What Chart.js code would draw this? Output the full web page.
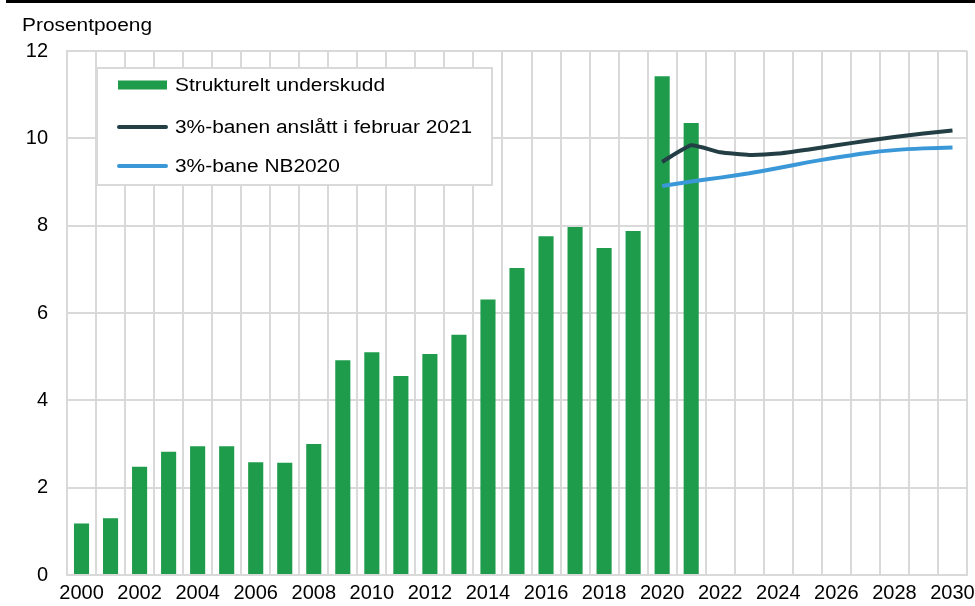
<!DOCTYPE html>
<html>
<head>
<meta charset="utf-8">
<script src="https://cdn.jsdelivr.net/npm/chart.js@4"></script>
<style>
  body { margin: 0; background: #fff; }
  canvas { display: block; }
</style>
</head>
<body>
<canvas id="chart" width="975" height="606"></canvas>
<script>
// Years on the x axis
const years = [];
for (let y = 2000; y <= 2030; y++) years.push(String(y));

// Strukturelt underskudd, 2000-2021
const deficit = [1.18, 1.30, 2.48, 2.82, 2.95, 2.95, 2.58, 2.57, 3.00, 4.92,
    5.10, 4.56, 5.06, 5.50, 6.31, 7.03, 7.76, 7.97, 7.49, 7.88, 11.42, 10.35];

// 3%-banen anslått i februar 2021, 2020-2030
const pathFeb2021 = [9.46, 9.84, 9.68, 9.62, 9.65, 9.74, 9.84, 9.94, 10.03, 10.11, 10.18];

// 3%-bane NB2020, 2020-2030
const pathNB2020 = [8.91, 9.01, 9.10, 9.20, 9.32, 9.45, 9.56, 9.66, 9.73, 9.77, 9.79];

const yTicks = [0, 2, 4, 6, 8, 10, 12];

const seriesNames = ['Strukturelt underskudd', '3%-banen anslått i februar 2021', '3%-bane NB2020'];
const colors = ['#1e9c4b', '#233f45', '#3a98d9'];

// pad the line series with nulls before 2020
const pad = years.length - pathFeb2021.length;
const lead = new Array(pad).fill(null);

Chart.defaults.font.family = '"Liberation Sans", Arial, sans-serif';
Chart.defaults.font.size = 20;
Chart.defaults.color = '#000';

// text in the reference is a bit wider than plain Arial
function wideText(ctx, txt, x, y) {
    ctx.save();
    ctx.translate(x, y);
    ctx.scale(1.16, 1);
    ctx.fillText(txt, 0, 0);
    ctx.restore();
}

// legend box, axis title and top rule
const extras = {
    id: 'extras',
    afterDraw(chart) {
        const ctx = chart.ctx;
        ctx.save();
        ctx.fillStyle = '#000';
        ctx.fillRect(6, 0, 969, 3);

        ctx.font = '18px "Liberation Sans", Arial';
        ctx.textBaseline = 'alphabetic';
        ctx.textAlign = 'left';
        wideText(ctx, 'Prosentpoeng', 22, 31);

        // legend
        ctx.fillStyle = '#fff';
        ctx.fillRect(97, 68, 395, 117);
        ctx.strokeStyle = '#d9d9d9';
        ctx.lineWidth = 2;
        ctx.strokeRect(97, 68, 395, 117);

        const rows = [85, 127, 166];
        const legendOrder = [2, 0, 1];
        legendOrder.forEach((di, i) => {
            const ds = chart.data.datasets[di];
            const yy = rows[i];
            if (ds.type === 'bar') {
                ctx.fillStyle = ds.backgroundColor;
                ctx.fillRect(118, yy - 4.5, 49, 9);
            } else {
                ctx.strokeStyle = ds.borderColor;
                ctx.lineWidth = 4;
                ctx.lineCap = 'round';
                ctx.beginPath();
                ctx.moveTo(119, yy);
                ctx.lineTo(166, yy);
                ctx.stroke();
            }
            ctx.fillStyle = '#000';
            ctx.textBaseline = 'middle';
            wideText(ctx, ds.label, 175, yy + 1);
        });
        ctx.restore();
    }
};

new Chart(document.getElementById('chart'), {
    data: {
        labels: years,
        datasets: [
            {
                type: 'line',
                label: seriesNames[1],
                data: lead.concat(pathFeb2021),
                borderColor: colors[1],
                borderWidth: 4,
                pointRadius: 0,
                tension: 0.15,
                order: 1
            },
            {
                type: 'line',
                label: seriesNames[2],
                data: lead.concat(pathNB2020),
                borderColor: colors[2],
                borderWidth: 4,
                pointRadius: 0,
                tension: 0.2,
                order: 2
            },
            {
                type: 'bar',
                label: seriesNames[0],
                data: deficit,
                backgroundColor: colors[0],
                categoryPercentage: 1,
                barPercentage: 0.52,
                order: 3
            }
        ]
    },
    options: {
        responsive: false,
        animation: false,
        devicePixelRatio: 1,
        layout: { padding: { top: 51, right: 8, left: 0, bottom: 0 } },
        plugins: {
            legend: { display: false },
            tooltip: { enabled: false }
        },
        scales: {
            x: {
                type: 'category',
                offset: true,
                grid: { offset: true, color: '#d9d9d9', lineWidth: 2, drawTicks: false },
                border: { color: '#d9d9d9', width: 2 },
                ticks: {
                    autoSkip: false,
                    maxRotation: 0,
                    padding: 6,
                    callback: (v, i) => (i % 2 === 0 ? years[i] : '')
                },
                afterFit: s => { s.height = 31; s.paddingRight = 0; }
            },
            y: {
                min: 0,
                max: 12,
                afterBuildTicks: s => { s.ticks = yTicks.map(v => ({ value: v })); },
                grid: { color: '#d9d9d9', lineWidth: 2, drawTicks: false },
                border: { color: '#d9d9d9', width: 2 },
                ticks: { padding: 19 },
                afterFit: s => { s.width = 67; }
            }
        }
    },
    plugins: [extras]
});
</script>
</body>
</html>
